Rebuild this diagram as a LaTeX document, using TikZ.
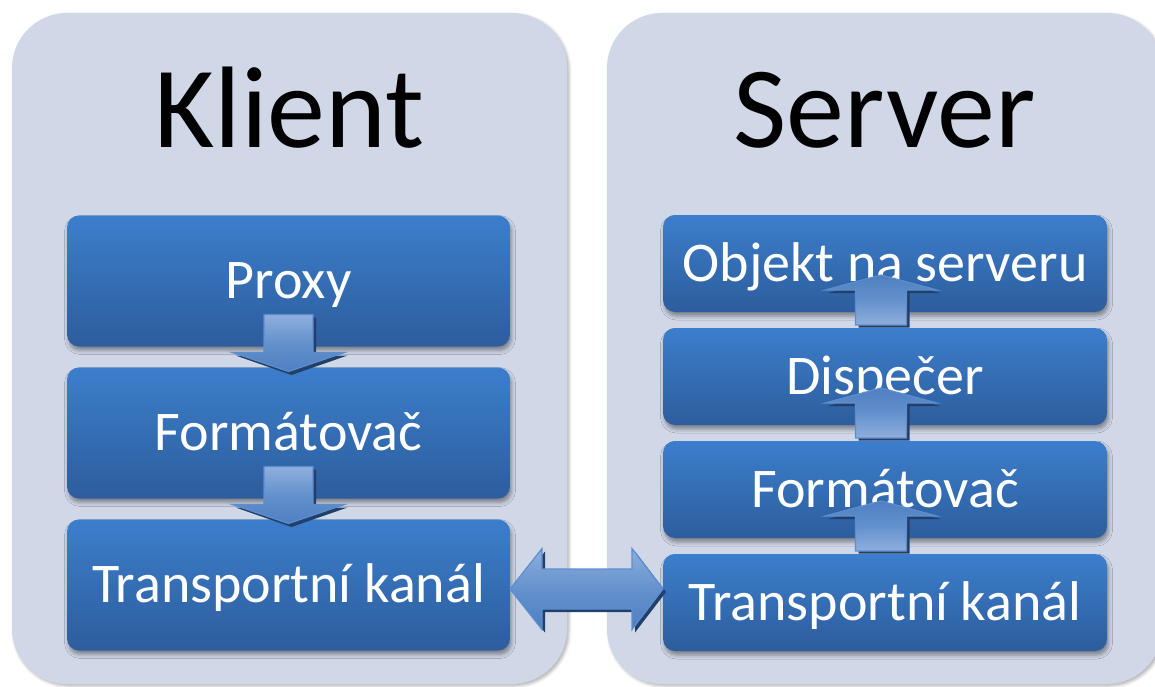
\documentclass[tikz,border=0pt]{standalone}
\usepackage{fontspec}
\setmainfont{Carlito}
\usetikzlibrary{calc,shadows.blur}

\definecolor{panelfill}{HTML}{D0D8E8}
\definecolor{boxtop}{HTML}{3C7ECC}
\definecolor{boxbot}{HTML}{2D5D9C}
\definecolor{arrlight}{HTML}{8FAFDD}
\definecolor{arrmid}{HTML}{6491CD}
\definecolor{arrdark}{HTML}{4E7FC1}
\definecolor{arredge}{HTML}{5C8ECF}
\definecolor{arrshadow}{HTML}{223F69}

\tikzset{
  panel/.style={fill=panelfill, rounded corners=55pt,
    blur shadow={shadow xshift=2pt, shadow yshift=-2pt,
      shadow blur radius=3pt, shadow opacity=30}},
  layer/.style={rectangle, rounded corners=12pt, inner sep=0pt,
    top color=boxtop, bottom color=boxbot, text=white,
    font=\fontsize{56}{60}\selectfont, text height=35pt, text depth=0pt,
    blur shadow={shadow xshift=1.5pt, shadow yshift=-4pt,
      shadow blur radius=4pt, shadow opacity=40}},
  leftlayer/.style={layer, minimum width=443pt, minimum height=131pt},
  rightlayer/.style={layer, minimum width=444pt, minimum height=97pt},
  title/.style={font=\fontsize{116}{120}\selectfont, text=black,
    anchor=base, inner sep=0pt},
  arrbody/.style={draw=arredge, line width=1.2pt, line join=miter},
  % block arrow pointing down, tail light
  downarr/.pic={
    \fill[arrshadow] (-21.5,-39.5) -- (27.5,-39.5) -- (27.5,-1.5) -- (59,-1.5)
      -- (3,18) -- (-53,-1.5) -- (-21.5,-1.5) -- cycle;
    \path[arrbody, top color=arrlight, bottom color=arrdark, middle color=arrmid]
      (-24.5,-42.5) -- (24.5,-42.5) -- (24.5,-4.5) -- (56,-4.5)
      -- (0,14.5) -- (-56,-4.5) -- (-24.5,-4.5) -- cycle;
  },
  % block arrow pointing up, tail light
  uparr/.pic={
    \fill[arrshadow] (-22.5,7.5) -- (28.5,7.5) -- (28.5,-27) -- (59,-27)
      -- (3,-42) -- (-53,-27) -- (-22.5,-27) -- cycle;
    \path[arrbody, top color=arrdark, bottom color=arrlight, middle color=arrmid]
      (-25.5,5) -- (25.5,5) -- (25.5,-30) -- (56,-30)
      -- (0,-45) -- (-56,-30) -- (-25.5,-30) -- cycle;
  },
  % horizontal double block arrow
  duoarr/.pic={
    \fill[arrshadow] (-73.5,3) -- (-41.5,-37.5) -- (-41.5,-17) -- (48.5,-17)
      -- (48.5,-37.5) -- (79.5,3) -- (48.5,43.5) -- (48.5,23) -- (-41.5,23)
      -- (-41.5,43.5) -- cycle;
    \path[arrbody, top color=arrlight, bottom color=arrdark, middle color=arrmid]
      (-76.5,0) -- (-44.5,-40.5) -- (-44.5,-20) -- (45.5,-20)
      -- (45.5,-40.5) -- (76.5,0) -- (45.5,40.5) -- (45.5,20) -- (-44.5,20)
      -- (-44.5,40.5) -- cycle;
  },
}

\begin{document}
\begin{tikzpicture}[x=1pt, y=-1pt]
  \useasboundingbox (0,0) rectangle (1155,687);

  % the two sides
  \path[panel] (12,13) rectangle (567,684);
  \path[panel] (607,13) rectangle (1162,684);

  \node[title] (klient) at (289.5,148) {Klient};
  \node[title] (server) at (884.5,148) {Server};

  % client stack
  \node[leftlayer] (proxy)  at (288.5,281) {Proxy};
  \node[leftlayer] (fmtL)   at (288.5,433) {Formátovač};
  \node[leftlayer] (transL) at (288.5,585) {Transportní kanál};

  % server stack
  \node[rightlayer] (objekt) at (885,263.5) {Objekt na serveru};
  \node[rightlayer] (disp)   at (885,376.5) {Dispečer};
  \node[rightlayer] (fmtR)   at (885,489.5) {Formátovač};
  \node[rightlayer] (transR) at (885,602.5) {Transportní kanál};

  % flow through the client
  \pic at ($(proxy.south)!0.5!(fmtL.north)$) {downarr};
  \pic at ($(fmtL.south)!0.5!(transL.north)$) {downarr};

  % flow through the server
  \pic at ($(transR.north)!0.5!(fmtR.south)+(-4,0)$) {uparr};
  \pic at ($(fmtR.north)!0.5!(disp.south)+(-4,0)$) {uparr};
  \pic at ($(disp.north)!0.5!(objekt.south)+(-4,0)$) {uparr};

  % channel between client and server
  \pic at ($(transL.east)!0.5!(transR.west)+(0,-4.75)$) {duoarr};
\end{tikzpicture}
\end{document}
